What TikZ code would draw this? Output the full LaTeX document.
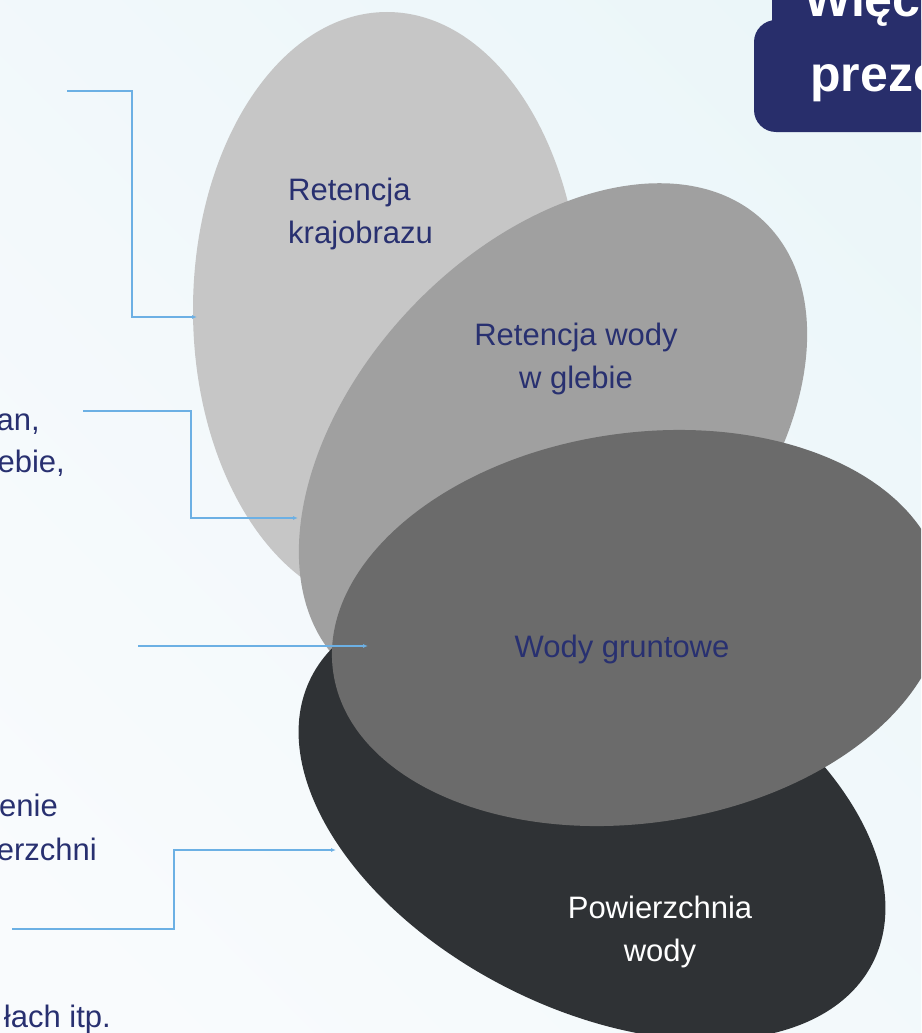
\documentclass[tikz,border=0pt]{standalone}
\usepackage{fontspec}
\setmainfont{Liberation Sans}
\usetikzlibrary{arrows.meta}
\definecolor{bgA}{HTML}{EBF6F9}
\definecolor{bgB}{HTML}{F9FBFD}
\definecolor{gA}{HTML}{C6C6C6}
\definecolor{gB}{HTML}{A0A0A0}
\definecolor{gC}{HTML}{6B6B6B}
\definecolor{gD}{HTML}{2F3235}
\definecolor{navy}{HTML}{283070}
\definecolor{boxnavy}{HTML}{282E6B}
\definecolor{conn}{HTML}{6CB0E4}
\begin{document}
\begin{tikzpicture}[x=1pt,y=-1pt,
  lbl/.style={font=\fontsize{31}{43}\selectfont, text=navy, inner sep=0pt},
  side/.style={font=\fontsize{31}{43}\selectfont, text=navy, inner sep=0pt, anchor=base east},
  boxtext/.style={font=\bfseries\fontsize{50}{75}\selectfont, text=white, inner sep=0pt, anchor=base west},
  link/.style={draw=conn, line width=1.2pt, -{Latex[length=5pt,width=4pt]}},
]
\useasboundingbox (0,0) rectangle (921,1033);
\clip (0,0) rectangle (921,1033);
\shade[left color=bgA, right color=bgB, shading angle=-45] (-100,-100) rectangle (1021,1133);
% ellipses
\fill[gA] (387,310) ellipse [x radius=194, y radius=298];
\fill[gB, rotate around={46.5:(553,443)}] (553,443) ellipse [x radius=306, y radius=196];
\fill[gD, rotate around={-27:(592,820)}] (592,820) ellipse [x radius=315, y radius=188];
\fill[gC, rotate around={8.3:(638,628)}] (638,628) ellipse [x radius=308, y radius=195];
% box top right
\fill[boxnavy, rounded corners=20] (772,-80) rectangle (1000,60);
\fill[boxnavy, rounded corners=22] (754,20) rectangle (1000,132);
\node[boxtext] (b1) at (804,17) {Więcej};
\node[boxtext] (b2) at (810,92) {prezentacji};
% labels
\node[lbl, anchor=base west] (r1a) at (288,200) {Retencja};
\node[lbl, anchor=base west] (r1b) at (288,243) {krajobrazu};
\node[lbl, anchor=base] (r2a) at (576,345) {Retencja wody};
\node[lbl, anchor=base] (r2b) at (576,388) {w glebie};
\node[lbl, anchor=base] (r3) at (622,657) {Wody gruntowe};
\node[lbl, anchor=base, text=white] (r4a) at (660,918) {Powierzchnia};
\node[lbl, anchor=base, text=white] (r4b) at (660,961) {wody};
% side texts
\node[side] (l1) at (40,430) {an,};
\node[side] (l2) at (65,472) {ebie,};
\node[side] (l3) at (58,816) {enie};
\node[side] (l4) at (97,860) {erzchni};
\node[side] (l5) at (111,1027) {łach itp.};
% connectors
\coordinate (s1) at (67,91);   \coordinate (e1) at (197,317);
\coordinate (s2) at (83,411);  \coordinate (e2) at (298,518);
\coordinate (s3) at (138,646); \coordinate (e3) at (368,646);
\coordinate (s4) at (12,929);  \coordinate (e4) at (336,850);
\draw[link] (s1) -- ++(65,0) |- (e1);
\draw[link] (s2) -- ++(108,0) |- (e2);
\draw[link] (s3) -- (e3);
\draw[link] (s4) -- ++(162,0) |- (e4);
\end{tikzpicture}
\end{document}
